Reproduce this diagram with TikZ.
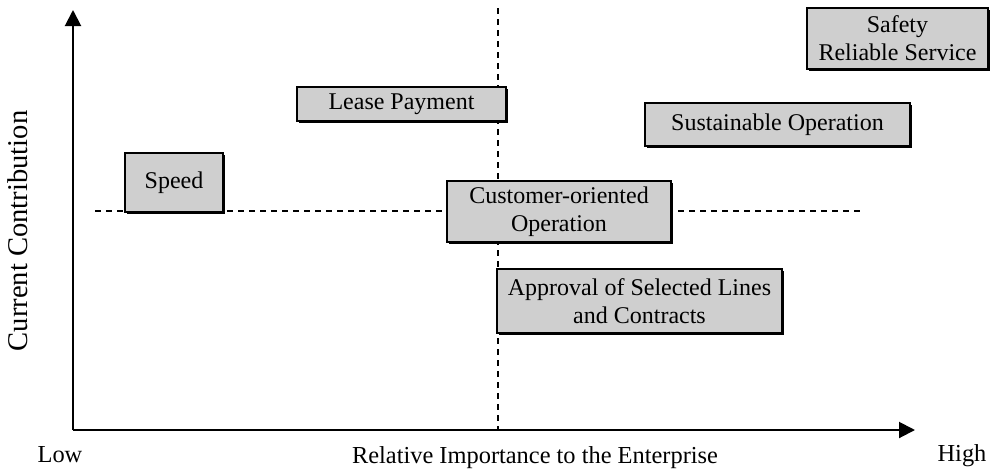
\documentclass[tikz,border=0pt]{standalone}
\usepackage{fontspec}
\setmainfont{Liberation Serif}
\usepackage{tikz}
\usetikzlibrary{
        arrows.meta,
        positioning,
        shadows
    }
\tikzset{x=0.5pt,y=-0.5pt}
\tikzset{factor/.style={draw,line width=0.8pt,fill=black!19,align=center,inner sep=0pt,
        font=\fontsize{12}{14}\selectfont,
        drop shadow={shadow xshift=0.9pt,shadow yshift=-0.9pt,fill=black,opacity=1}}}
\tikzset{axis/.style={line width=1pt,-{Triangle[length=8pt,width=8pt]}}}
\tikzset{divider/.style={line width=0.7pt,dash pattern=on 3pt off 2.5pt}}
\tikzset{axislabel/.style={font=\fontsize{12.2}{14}\selectfont,inner sep=0pt}}

\begin{document}
\begin{tikzpicture}
                    \useasboundingbox (0,0) rectangle (992,473);
                    \coordinate (origin) at (73,430);
                    \coordinate (ytip)   at (73,10);
                    \coordinate (xtip)   at (915,430);
                    \coordinate (vtop)   at (498,8);
                    \coordinate (vbot)   at (498,430);
                    \coordinate (hleft)  at (95,211);
                    \coordinate (hright) at (862,211);
                    \draw[divider] (vtop) -- (vbot);
                    \draw[divider] (hleft) -- (hright);
                    \draw[axis] (origin) -- (ytip);
                    \draw[axis] (origin) -- (xtip);
                    \node[factor,minimum width=49pt,minimum height=29.5pt] (speed) at (174,182.5) {Speed};
                    \node[factor,minimum width=104.5pt,minimum height=17pt] (lease) at (401.5,104) {Lease Payment};
                    \node[factor,minimum width=112pt,minimum height=30.5pt] (custop) at (559,211.5) {Customer-oriented\\Operation};
                    \node[factor,minimum width=142.5pt,minimum height=32pt] (approval) at (639.5,301) {Approval of Selected Lines\\and Contracts};
                    \node[factor,minimum width=132.5pt,minimum height=21.5pt] (sustain) at (777.5,124.5) {Sustainable Operation};
                    \node[factor,minimum width=90.5pt,minimum height=30.5pt] (safety) at (897.5,38.5) {Safety\\Reliable Service};
                    \node[axislabel] (low)  at (60,455) {Low};
                    \node[axislabel] (high) at (962,456) {High};
                    \node[axislabel] (ximp) at (535,458) {Relative Importance to the Enterprise};
                    \node[axislabel,font=\fontsize{14.3}{16}\selectfont,rotate=90] (ycon) at (18,231) {Current Contribution};
                \end{tikzpicture}
\end{document}
